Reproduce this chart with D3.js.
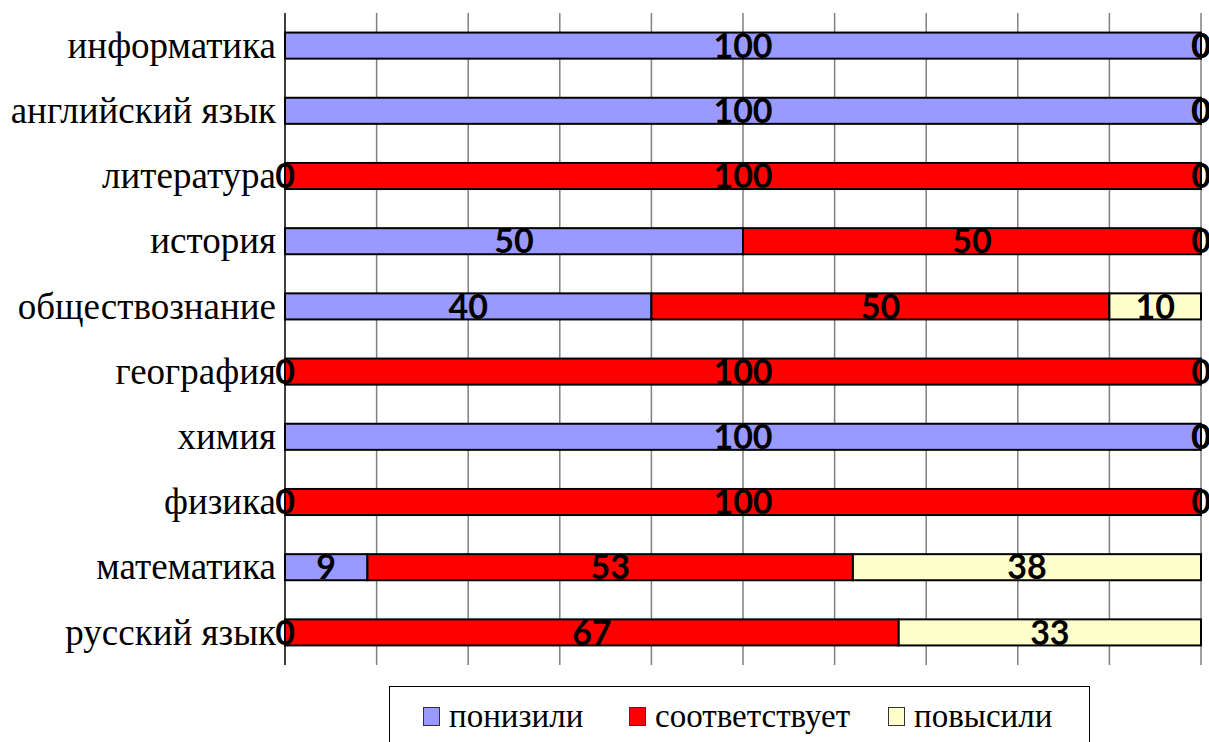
<!DOCTYPE html>
<html>
<head>
<meta charset="utf-8">
<script src="https://cdn.jsdelivr.net/npm/d3@7"></script>
<style>
    body { margin: 0; background: #fff; }
    .cat-label { font-family: "Liberation Serif", serif; font-size: 37px; fill: #000; }
    .val-label { font-family: Lato, "Liberation Sans", sans-serif; font-weight: bold; font-size: 34px; fill: #000; }
    .legend-text { font-family: "Liberation Serif", serif; font-size: 33px; fill: #000; }
</style>
</head>
<body>
<div id="chart"></div>
<script>
// Subjects, top to bottom
const categories = ['информатика', 'английский язык', 'литература', 'история', 'обществознание',
    'география', 'химия', 'физика', 'математика', 'русский язык'];

const seriesNames = ['понизили', 'соответствует', 'повысили'];
const ponizili = [100, 100, 0, 50, 40, 0, 100, 0, 9, 0];
const sootvetstvuet = [0, 0, 100, 50, 50, 100, 0, 100, 53, 67];
const povysili = [0, 0, 0, 0, 10, 0, 0, 0, 38, 33];
const xTicks = [0, 10, 20, 30, 40, 50, 60, 70, 80, 90, 100];

const colors = ['#9999ff', '#ff0000', '#ffffcc'];

const W = 1209, H = 742;
const plot = { left: 285, right: 1201, top: 13, bottom: 665 };

const svg = d3.select('#chart').append('svg')
    .attr('width', W)
    .attr('height', H);

const x = d3.scaleLinear()
    .domain([0, 100])
    .range([plot.left, plot.right]);

const y = d3.scaleBand()
    .domain(categories)
    .range([plot.top, plot.bottom])
    .paddingInner(0.6)
    .paddingOuter(0.3);

const rows = categories.map((c, i) => ({
    cat: c,
    'понизили': ponizili[i],
    'соответствует': sootvetstvuet[i],
    'повысили': povysili[i]
}));

const stacked = d3.stack().keys(seriesNames)(rows);

// Grid lines
svg.append('g')
    .selectAll('line')
    .data(xTicks.slice(1))
    .enter()
    .append('line')
    .attr('x1', d => x(d))
    .attr('x2', d => x(d))
    .attr('y1', plot.top)
    .attr('y2', plot.bottom)
    .style('stroke', '#808080')
    .style('stroke-width', 1.5);

// Left axis
svg.append('line')
    .attr('x1', x(0)).attr('x2', x(0))
    .attr('y1', plot.top).attr('y2', plot.bottom)
    .style('stroke', '#000')
    .style('stroke-width', 1.5);

// Bars
stacked.forEach((layer, si) => {
    svg.append('g')
        .selectAll('rect')
        .data(layer.filter(d => d[1] > d[0]))
        .enter()
        .append('rect')
        .attr('x', d => x(d[0]))
        .attr('y', d => y(d.data.cat))
        .attr('width', d => x(d[1]) - x(d[0]))
        .attr('height', y.bandwidth())
        .style('fill', colors[si])
        .style('stroke', '#000')
        .style('stroke-width', 2);
});

// Value labels (zero segments sit on the bar edge, as in the original)
stacked.forEach(layer => {
    svg.append('g')
        .selectAll('text')
        .data(layer)
        .enter()
        .append('text')
        .attr('class', 'val-label')
        .attr('x', d => x((d[0] + d[1]) / 2))
        .attr('y', d => y(d.data.cat) + y.bandwidth() / 2)
        .attr('dy', '0.36em')
        .attr('text-anchor', 'middle')
        .text(d => d[1] - d[0]);
});

// Category labels
svg.append('g')
    .selectAll('text')
    .data(categories)
    .enter()
    .append('text')
    .attr('class', 'cat-label')
    .attr('x', plot.left - 9)
    .attr('y', d => y(d) + y.bandwidth() / 2)
    .attr('dy', '0.33em')
    .attr('text-anchor', 'end')
    .text(d => d);

// Legend
const legend = svg.append('g');
legend.append('rect')
    .attr('x', 389.5)
    .attr('y', 686.5)
    .attr('width', 700)
    .attr('height', 80)
    .style('fill', '#fff')
    .style('stroke', '#000')
    .style('stroke-width', 1);

const legendX = [423, 629, 888];
seriesNames.forEach((name, i) => {
    legend.append('rect')
        .attr('x', legendX[i] + 0.5)
        .attr('y', 707.5)
        .attr('width', 16)
        .attr('height', 18)
        .style('fill', colors[i])
        .style('stroke', '#333')
        .style('stroke-width', 1);
    legend.append('text')
        .attr('class', 'legend-text')
        .attr('x', legendX[i] + 26)
        .attr('y', 727)
        .text(name);
});
</script>
</body>
</html>
